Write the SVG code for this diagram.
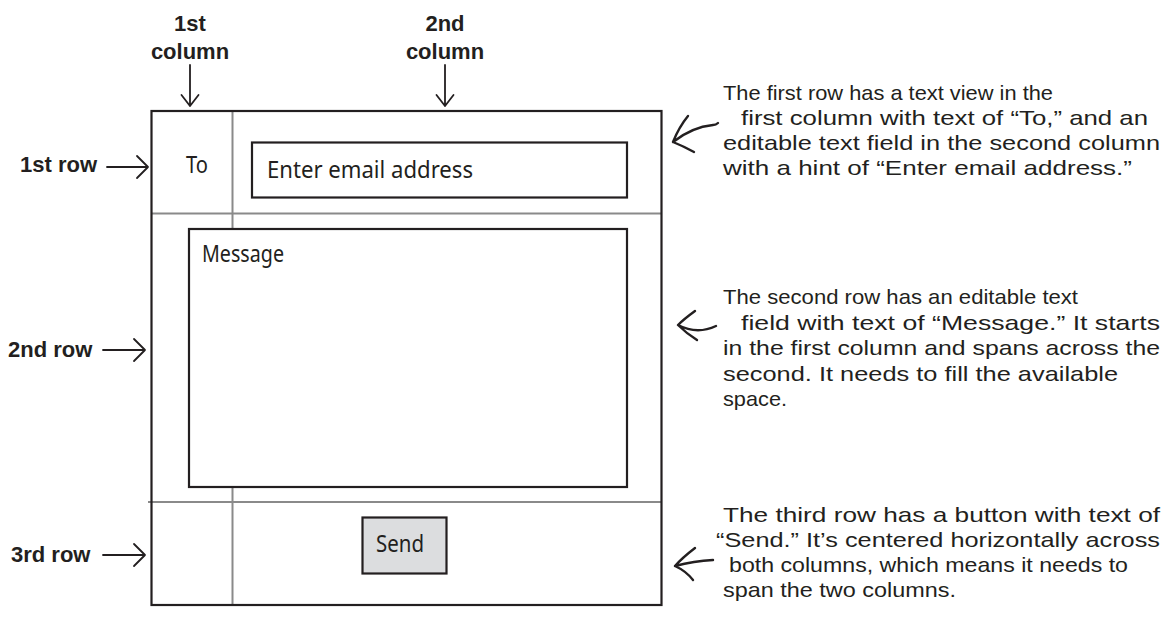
<svg xmlns="http://www.w3.org/2000/svg" width="1167" height="621" viewBox="0 0 1167 621">
<style>
.bg{fill:#ffffff}
.frame{fill:none;stroke:#231f20;stroke-width:2.2}
.grid{stroke:#8a8a8a;stroke-width:2;fill:none}
.box{fill:#ffffff;stroke:#231f20;stroke-width:2.2}
.btn{fill:#dcdddf;stroke:#231f20;stroke-width:2.2}
.lbl{font-family:'Liberation Sans',Arial,sans-serif;font-weight:bold;font-size:22px;fill:#231f20}
.hand{font-family:'Comic Sans MS','Noto Sans',sans-serif;font-size:24px;fill:#231f20}
.note{font-family:'Comic Sans MS','Liberation Sans',sans-serif;font-size:21px;fill:#231f20}
.arr{fill:none;stroke:#231f20;stroke-width:1.8;stroke-linecap:round;stroke-linejoin:round}
.harr{fill:none;stroke:#231f20;stroke-width:2.4;stroke-linecap:round;stroke-linejoin:round}
</style>
<rect class="bg" x="0" y="0" width="1167" height="621"/>

<g id="layout-grid">
  <line class="grid" x1="232.5" y1="111" x2="232.5" y2="605"/>
  <line class="grid" x1="151" y1="213.5" x2="661.5" y2="213.5"/>
  <line class="grid" x1="148" y1="502" x2="661.5" y2="502"/>
  <rect class="frame" x="151.5" y="111" width="510" height="494"/>
</g>

<g id="to-label">
  <text class="hand" x="186" y="173" textLength="22" lengthAdjust="spacingAndGlyphs">To</text>
</g>
<g id="email-field">
  <rect class="box" x="252" y="142.5" width="375" height="55"/>
  <text class="hand" x="267" y="178" textLength="206" lengthAdjust="spacingAndGlyphs">Enter email address</text>
</g>
<g id="message-field">
  <rect class="box" x="189" y="229" width="438" height="258"/>
  <text class="hand" x="202" y="262" textLength="82" lengthAdjust="spacingAndGlyphs">Message</text>
</g>
<g id="send-button">
  <rect class="btn" x="362.5" y="517.5" width="84" height="56"/>
  <text class="hand" x="376" y="552" textLength="48" lengthAdjust="spacingAndGlyphs">Send</text>
</g>

<g id="label-col1">
  <text class="lbl" x="190" y="31" text-anchor="middle">1st</text>
  <text class="lbl" x="190" y="59" text-anchor="middle">column</text>
</g>
<g id="label-col2">
  <text class="lbl" x="445" y="31" text-anchor="middle">2nd</text>
  <text class="lbl" x="445" y="59" text-anchor="middle">column</text>
</g>
<g id="label-row1"><text class="lbl" x="20" y="172">1st row</text></g>
<g id="label-row2"><text class="lbl" x="8" y="357">2nd row</text></g>
<g id="label-row3"><text class="lbl" x="11" y="562">3rd row</text></g>

<g id="note-row1">
  <text class="note" x="723" y="100" textLength="330" lengthAdjust="spacingAndGlyphs">The first row has a text view in the</text>
  <text class="note" x="741" y="125" textLength="407" lengthAdjust="spacingAndGlyphs">first column with text of “To,” and an</text>
  <text class="note" x="723" y="150" textLength="437" lengthAdjust="spacingAndGlyphs">editable text field in the second column</text>
  <text class="note" x="723" y="175" textLength="409" lengthAdjust="spacingAndGlyphs">with a hint of “Enter email address.”</text>
</g>
<g id="note-row2">
  <text class="note" x="723" y="304" textLength="355" lengthAdjust="spacingAndGlyphs">The second row has an editable text</text>
  <text class="note" x="741" y="329.5" textLength="419" lengthAdjust="spacingAndGlyphs">field with text of “Message.” It starts</text>
  <text class="note" x="723" y="355" textLength="437" lengthAdjust="spacingAndGlyphs">in the first column and spans across the</text>
  <text class="note" x="723" y="380.5" textLength="395" lengthAdjust="spacingAndGlyphs">second. It needs to fill the available</text>
  <text class="note" x="723" y="406" textLength="64" lengthAdjust="spacingAndGlyphs">space.</text>
</g>
<g id="note-row3">
  <text class="note" x="723" y="522" textLength="437" lengthAdjust="spacingAndGlyphs">The third row has a button with text of</text>
  <text class="note" x="716" y="547" textLength="444" lengthAdjust="spacingAndGlyphs">“Send.” It’s centered horizontally across</text>
  <text class="note" x="729" y="572" textLength="399" lengthAdjust="spacingAndGlyphs">both columns, which means it needs to</text>
  <text class="note" x="723" y="597" textLength="233" lengthAdjust="spacingAndGlyphs">span the two columns.</text>
</g>

<g id="connectors">
  <path class="arr" d="M190,65 V106 M181.5,95 L190,106 L198.5,95"/>
  <path class="arr" d="M445,65 V106 M436.5,95 L445,106 L453.5,95"/>
  <path class="arr" d="M107,167 H148 M137,156 L148,167 L137,178"/>
  <path class="arr" d="M103,350 H145 M134,339 L145,350 L134,361"/>
  <path class="arr" d="M103,555 H145 M134,544 L145,555 L134,566"/>
  <path class="harr" d="M673,142 Q692,127 713,125 Q716,125 718,123 M688,116 Q679,127 673,142 Q683,146 694,152"/>
  <path class="harr" d="M678,325 Q697,335 716,326 M695,311 Q684,319 678,325 Q686,333 697,340"/>
  <path class="harr" d="M675,566 Q694,561 713,560 M695,548 Q682,558 675,566 Q686,571 693,580"/>
</g>
</svg>
